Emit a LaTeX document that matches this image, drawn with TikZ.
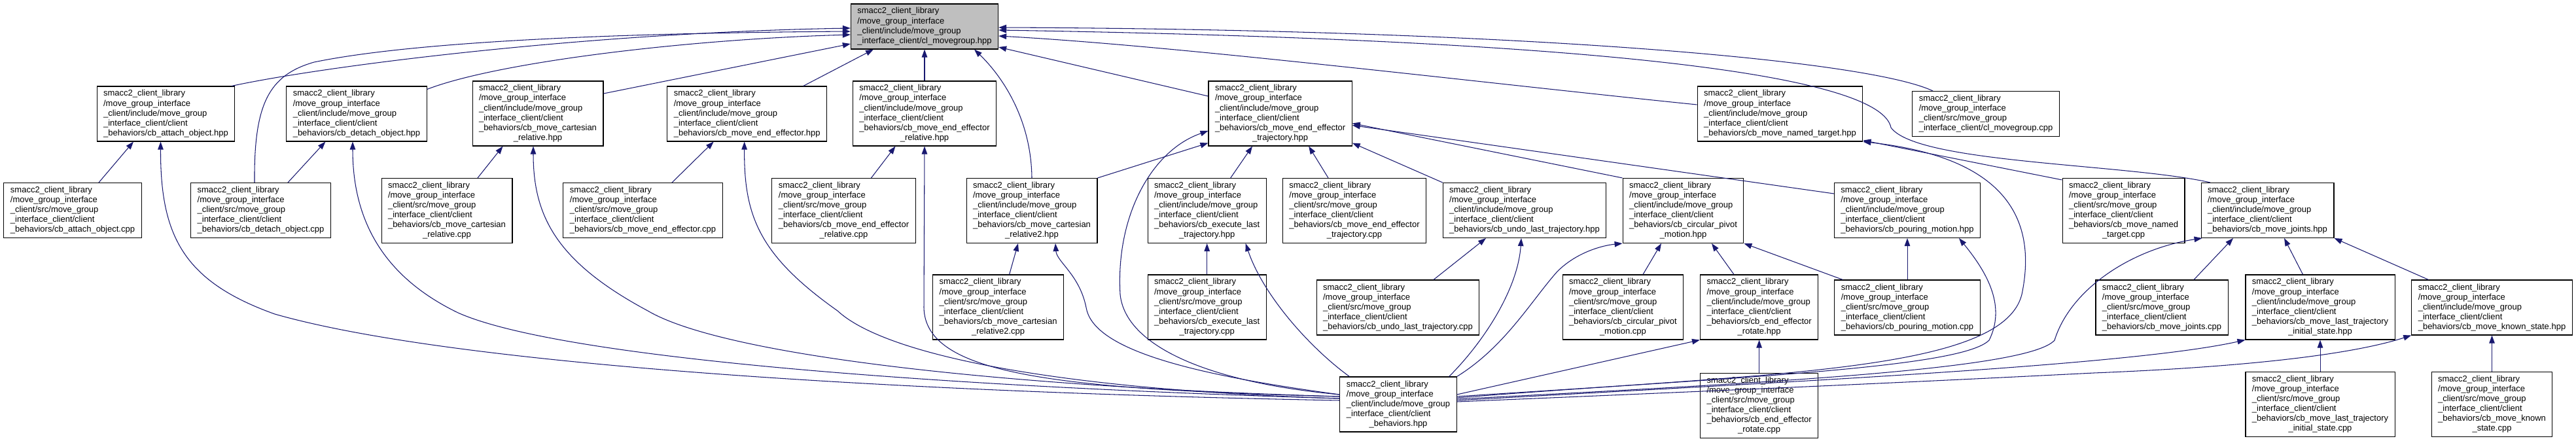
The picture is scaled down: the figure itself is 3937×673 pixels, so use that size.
\documentclass[tikz,border=0pt]{standalone}
\usepackage{fontspec}
\setmainfont{Liberation Sans}
\usepackage{xcolor}
\usepackage{tikz}
\usetikzlibrary{arrows.meta, calc}
\definecolor{dxEdge}{HTML}{191970}
\definecolor{dxGrey}{HTML}{BFBFBF}
\newcommand{\ctr}[1]{\multicolumn{1}{@{}c@{}}{#1}}
\newcommand{\incf}[1]{\begin{tabular}{@{}l@{}}smacc2\_client\_library\\/move\_group\_interface\\\_client/include/move\_group\\\_interface\_client/client\\#1\end{tabular}}
\newcommand{\srcf}[1]{\begin{tabular}{@{}l@{}}smacc2\_client\_library\\/move\_group\_interface\\\_client/src/move\_group\\\_interface\_client/client\\#1\end{tabular}}

\begin{document}
\begin{tikzpicture}[
  x=0.02cm, y=-0.02cm,
  font=\fontsize{7.4}{8.54}\selectfont,
  file/.style={draw=black, line width=0.6pt, fill=white, inner xsep=0.2cm, inner ysep=0.09cm},
  dep/.style={draw=dxEdge, line width=0.6pt, -{Triangle[length=0.24cm, width=0.17cm]}},
]
\useasboundingbox (0,0) rectangle (3937,673);

% ---------------- Header (gốc) ----------------
\node[file, fill=dxGrey] (mg) at (1413,40.5) {\begin{tabular}{@{}l@{}}smacc2\_client\_library\\/move\_group\_interface\\\_client/include/move\_group\\\_interface\_client/cl\_movegroup.hpp\end{tabular}};

% ---------------- Hàng 1 ----------------
\node[file] (atth) at (253.5,174)  {\incf{\_behaviors/cb\_attach\_object.hpp}};
\node[file] (deth) at (545,174)    {\incf{\_behaviors/cb\_detach\_object.hpp}};
\node[file] (carh) at (822,173.5)  {\incf{\_behaviors/cb\_move\_cartesian\\\ctr{\_relative.hpp}}};
\node[file] (eeh)  at (1141.7,174) {\incf{\_behaviors/cb\_move\_end\_effector.hpp}};
\node[file] (eerh) at (1413,173.5) {\incf{\_behaviors/cb\_move\_end\_effector\\\ctr{\_relative.hpp}}};
\node[file] (eeth) at (1956.6,173.5) {\incf{\_behaviors/cb\_move\_end\_effector\\\ctr{\_trajectory.hpp}}};
\node[file] (namh) at (2720.5,174) {\incf{\_behaviors/cb\_move\_named\_target.hpp}};
\node[file] (mgc)  at (3035,174)   {\begin{tabular}{@{}l@{}}smacc2\_client\_library\\/move\_group\_interface\\\_client/src/move\_group\\\_interface\_client/cl\_movegroup.cpp\end{tabular}};

% ---------------- Hàng 2 ----------------
\node[file] (attc)  at (111,321.5)   {\srcf{\_behaviors/cb\_attach\_object.cpp}};
\node[file] (detc)  at (398.5,321.5) {\srcf{\_behaviors/cb\_detach\_object.cpp}};
\node[file] (carc)  at (683,322)     {\srcf{\_behaviors/cb\_move\_cartesian\\\ctr{\_relative.cpp}}};
\node[file] (eec)   at (982.5,321.5) {\srcf{\_behaviors/cb\_move\_end\_effector.cpp}};
\node[file] (eerc)  at (1289.5,322)  {\srcf{\_behaviors/cb\_move\_end\_effector\\\ctr{\_relative.cpp}}};
\node[file] (car2h) at (1577,322)    {\incf{\_behaviors/cb\_move\_cartesian\\\ctr{\_relative2.hpp}}};
\node[file] (exeh)  at (1844.7,322)  {\incf{\_behaviors/cb\_execute\_last\\\ctr{\_trajectory.hpp}}};
\node[file] (eetc)  at (2070,322)    {\srcf{\_behaviors/cb\_move\_end\_effector\\\ctr{\_trajectory.cpp}}};
\node[file] (undh)  at (2330,321.5)  {\incf{\_behaviors/cb\_undo\_last\_trajectory.hpp}};
\node[file] (cirh)  at (2572.5,322)  {\incf{\_behaviors/cb\_circular\_pivot\\\ctr{\_motion.hpp}}};
\node[file] (pouh)  at (2915,321.5)  {\incf{\_behaviors/cb\_pouring\_motion.hpp}};
\node[file] (namc)  at (3245.5,322)  {\srcf{\_behaviors/cb\_move\_named\\\ctr{\_target.cpp}}};
\node[file] (joih)  at (3465.5,321.5) {\incf{\_behaviors/cb\_move\_joints.hpp}};

% ---------------- Hàng 3 ----------------
\node[file] (car2c) at (1525.6,469.5) {\srcf{\_behaviors/cb\_move\_cartesian\\\ctr{\_relative2.cpp}}};
\node[file] (exc)   at (1844.7,469.5) {\srcf{\_behaviors/cb\_execute\_last\\\ctr{\_trajectory.cpp}}};
\node[file] (undc)  at (2136.5,470)   {\srcf{\_behaviors/cb\_undo\_last\_trajectory.cpp}};
\node[file] (circ)  at (2480.4,469.5) {\srcf{\_behaviors/cb\_circular\_pivot\\\ctr{\_motion.cpp}}};
\node[file] (roth)  at (2688.6,469.5) {\incf{\_behaviors/cb\_end\_effector\\\ctr{\_rotate.hpp}}};
\node[file] (pouc)  at (2915,470)     {\srcf{\_behaviors/cb\_pouring\_motion.cpp}};
\node[file] (joic)  at (3304,470)     {\srcf{\_behaviors/cb\_move\_joints.cpp}};
\node[file] (lsth)  at (3546,469.5)   {\incf{\_behaviors/cb\_move\_last\_trajectory\\\ctr{\_initial\_state.hpp}}};
\node[file] (knoh)  at (3808.5,470)   {\incf{\_behaviors/cb\_move\_known\_state.hpp}};

% ---------------- Hàng 4 ----------------
\node[file] (beh)  at (2137,618)   {\incf{\ctr{\_behaviors.hpp}}};
\node[file] (rotc) at (2688.6,620) {\srcf{\_behaviors/cb\_end\_effector\\\ctr{\_rotate.cpp}}};
\node[file] (lstc) at (3546,618)   {\srcf{\_behaviors/cb\_move\_last\_trajectory\\\ctr{\_initial\_state.cpp}}};
\node[file] (knoc) at (3808.5,618) {\srcf{\_behaviors/cb\_move\_known\\\ctr{\_state.cpp}}};

% ---------------- Vào cl_movegroup.hpp ----------------
\draw[dep] ($(atth.north)+(100.5,0)$) .. controls (500,100) and (900,50) .. ($(mg.west)+(0,2.5)$);
\draw[dep] ($(detc.north)+(-9.5,0)$) .. controls (388,160) and (410,115) .. (480,95) .. controls (650,60) and (1000,50) .. ($(mg.west)+(0,7.5)$);
\draw[dep] ($(deth.north east)+(0,5)$) .. controls (760,95) and (1050,60) .. ($(mg.west)+(0,12.5)$);
\draw[dep] ($(carh.east)+(0,-30.5)$) -- ($(mg.west)+(0,26.5)$);
\draw[dep] ($(eeh.north)+(86,0)$) -- ($(mg.south)+(-78,0)$);
\draw[dep] (eerh.north) -- (mg.south);
\draw[dep] (car2h.north) .. controls (1576,180) and (1530,115) .. ($(mg.south)+(76,0)$);
\draw[dep] ($(eeth.west)+(0,-26.5)$) -- ($(mg.east)+(0,31.5)$);
\draw[dep] ($(namh.west)+(0,-14)$) .. controls (2250,125) and (1800,70) .. ($(mg.east)+(0,14.5)$);
\draw[dep] ($(mgc.north)+(-81,0)$) .. controls (2850,90) and (2300,45) .. ($(mg.east)+(0,1.5)$);
\draw[dep] ($(joih.north)+(-87.5,0)$) .. controls (3250,250) and (2930,250) .. (2890,195) .. controls (2875,120) and (2500,62) .. ($(mg.east)+(0,5.5)$);

% ---------------- Hàng 2 -> hàng 1 ----------------
\draw[dep] ($(attc.north)+(40,0)$) -- ($(atth.south)+(-49.5,0)$);
\draw[dep] ($(detc.north)+(41.5,0)$) -- ($(deth.south)+(-47.6,0)$);
\draw[dep] ($(carc.north)+(47,0)$) -- ($(carh.south)+(-53.5,0)$);
\draw[dep] ($(eec.north)+(44.5,0)$) -- ($(eeh.south)+(-51,0)$);
\draw[dep] ($(eerc.north)+(42,0)$) -- ($(eerh.south)+(-44.5,0)$);
\draw[dep] ($(eetc.north)+(-40,0)$) -- ($(eeth.south)+(43.6,0)$);
\draw[dep] ($(exeh.north)+(36,0)$) -- ($(eeth.south)+(-42.6,0)$);
\draw[dep] (car2h.north east) -- ($(eeth.south west)+(0,-5)$);
\draw[dep] (undh.north west) -- ($(eeth.south east)+(0,-5)$);
\draw[dep] (cirh.north west) -- ($(eeth.east)+(0,15)$);
\draw[dep] ($(pouh.west)+(0,-25.5)$) -- ($(eeth.east)+(0,18)$);
\draw[dep] ($(namc.north west)+(0,3)$) -- ($(namh.south east)+(0,-2)$);

% ---------------- Hàng 3/4 -> hàng trên ----------------
\draw[dep] ($(car2c.north)+(17,0)$) -- ($(car2h.south)+(-21,0)$);
\draw[dep] (exc.north) -- (exeh.south);
\draw[dep] ($(undc.north)+(54.5,0)$) -- ($(undh.south)+(-59,0)$);
\draw[dep] ($(circ.north)+(30.6,0)$) -- ($(cirh.south)+(-33.5,0)$);
\draw[dep] ($(roth.north)+(-38.6,0)$) -- ($(cirh.south)+(43.5,0)$);
\draw[dep] ($(pouc.north west)+(13,0)$) -- (cirh.south east);
\draw[dep] (pouc.north) -- (pouh.south);
\draw[dep] ($(joic.north)+(49,0)$) -- ($(joih.south)+(-52.5,0)$);
\draw[dep] ($(lsth.north)+(-26.5,0)$) -- ($(joih.south)+(25.5,0)$);
\draw[dep] ($(knoh.north)+(-97,0)$) -- (joih.south east);
\draw[dep] (rotc.north) -- (roth.south);
\draw[dep] (lstc.north) -- (lsth.south);
\draw[dep] (knoc.north) -- (knoh.south);

% ---------------- client_behaviors.hpp ----------------
\draw[dep] ($(beh.west)+(0,-6)$) .. controls (1400,600) and (700,560) .. (420,480) .. controls (280,430) and (245,360) .. ($(atth.south)+(-8,0)$);
\draw[dep] ($(beh.west)+(0,-9)$) .. controls (1400,590) and (850,545) .. (700,478) .. controls (580,420) and (539,330) .. ($(deth.south)+(-6,0)$);
\draw[dep] ($(beh.west)+(0,-12)$) .. controls (1500,590) and (1100,540) .. (990,475) .. controls (850,400) and (815,330) .. ($(carh.south)+(-7,0)$);
\draw[dep] ($(beh.west)+(0,-9)$) .. controls (1600,595) and (1350,540) .. (1280,475) .. controls (1160,390) and (1137,330) .. ($(eeh.south)+(-4,0)$);
\draw[dep] ($(beh.west)+(0,-12)$) .. controls (1600,595) and (1414,570) .. (1412,470) -- (eerh.south);
\draw[dep] ($(beh.west)+(0,-15)$) .. controls (1800,570) and (1670,530) .. (1660,470) .. controls (1650,420) and (1615,400) .. ($(car2h.south)+(36,0)$);
\draw[dep] ($(beh.west)+(0,-15)$) .. controls (1850,585) and (1720,530) .. (1712,450) .. controls (1705,330) and (1760,230) .. ($(eeth.west)+(0,26.5)$);
\draw[dep] ($(beh.north west)+(15,0)$) .. controls (2000,530) and (1930,450) .. ($(exeh.south)+(59,0)$);
\draw[dep] ($(beh.north east)+(-12,0)$) .. controls (2270,520) and (2320,440) .. ($(undh.south)+(-5,0)$);
\draw[dep] (beh.north east) .. controls (2300,530) and (2340,460) .. (2380,415) .. controls (2410,385) and (2450,375) .. (cirh.south west);
\draw[dep] ($(beh.east)+(0,-15)$) -- (roth.south west);
\draw[dep] ($(beh.east)+(0,-12)$) .. controls (2700,575) and (3000,560) .. (3040,520) .. controls (3065,470) and (3040,420) .. ($(pouh.south)+(79,0)$);
\draw[dep] ($(beh.east)+(0,-10)$) .. controls (2700,570) and (3060,570) .. (3090,450) .. controls (3115,330) and (3060,240) .. (namh.south east);
\draw[dep] ($(beh.east)+(0,-8)$) .. controls (2700,585) and (3100,565) .. (3140,520) .. controls (3165,440) and (3260,380) .. ($(joih.south)+(-100,0)$);
\draw[dep] ($(beh.east)+(0,-6)$) .. controls (2700,585) and (3250,560) .. (lsth.south west);
\draw[dep] ($(beh.east)+(0,-4)$) .. controls (2800,590) and (3000,580) .. (3200,570) .. controls (3450,560) and (3600,540) .. (knoh.south west);
\end{tikzpicture}
\end{document}
